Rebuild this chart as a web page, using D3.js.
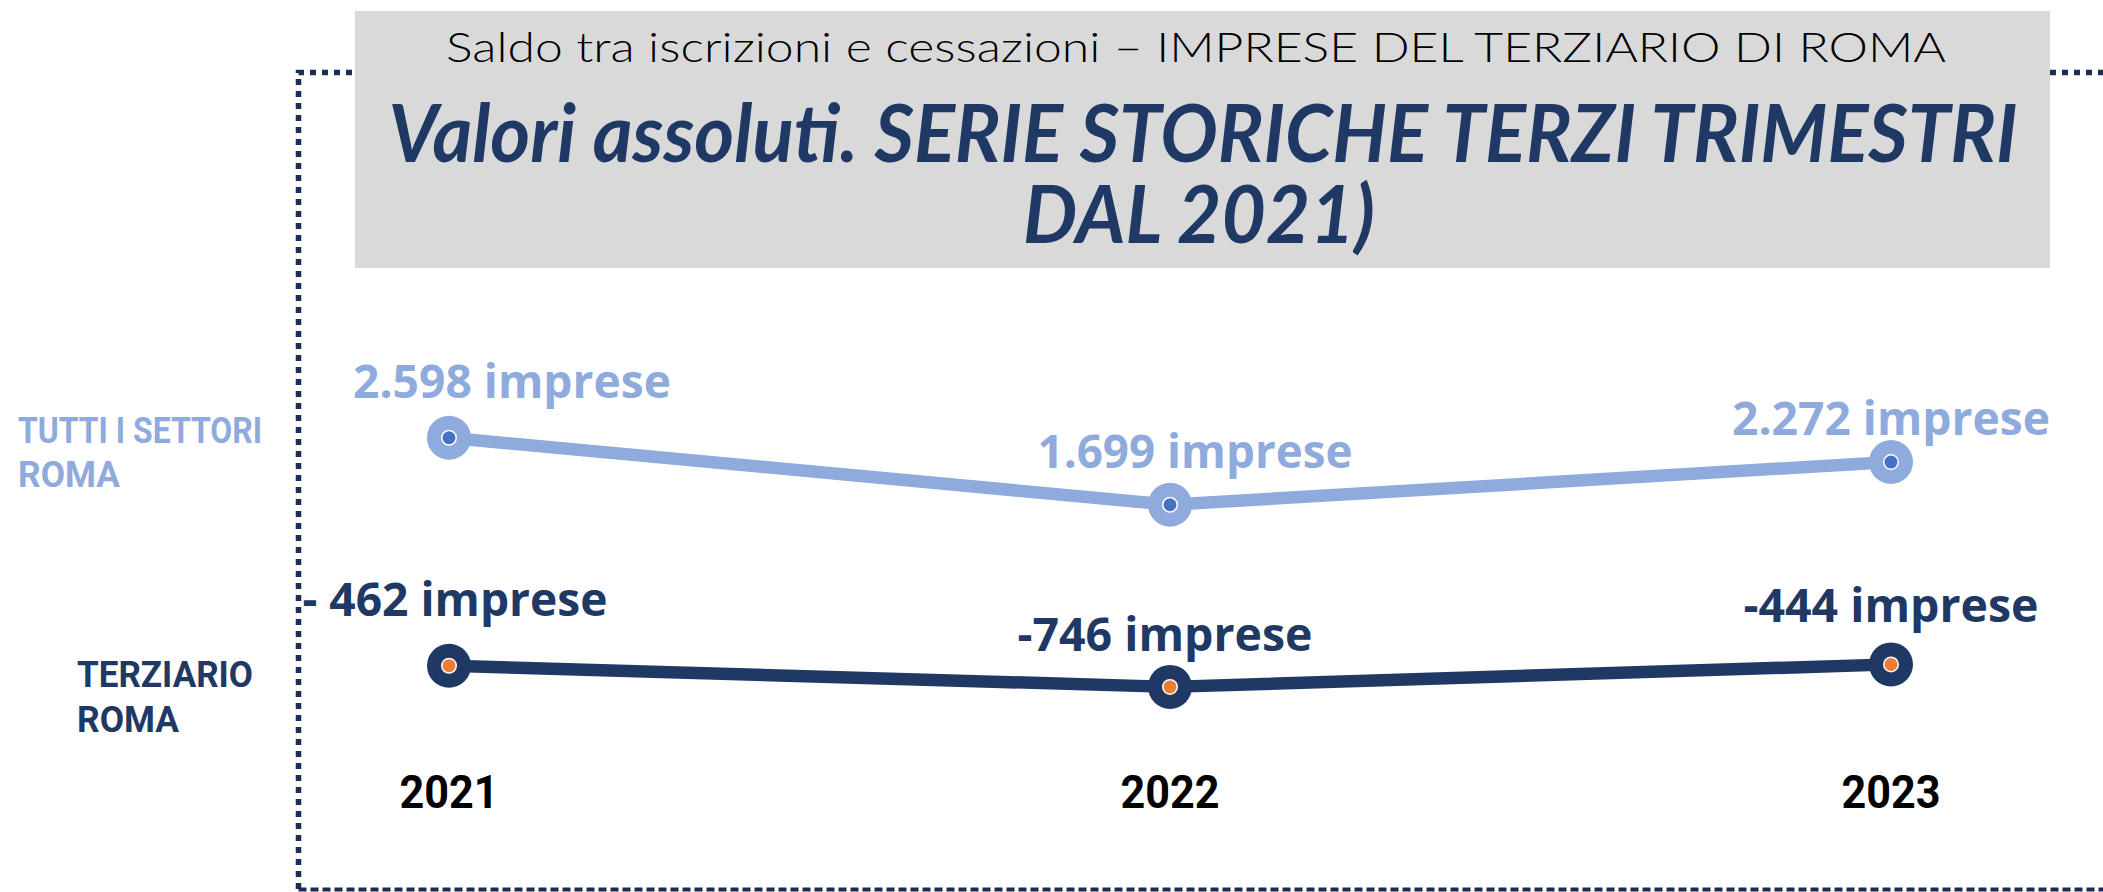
<!DOCTYPE html>
<html>
<head>
<meta charset="utf-8">
<script src="https://cdn.jsdelivr.net/npm/d3@7/dist/d3.min.js"></script>
<style>
  html, body { margin: 0; padding: 0; background: #ffffff; }
  svg { display: block; }
</style>
</head>
<body>
<script>
// ---------- DATA ----------
const years = ["2021", "2022", "2023"];
const tuttiValues = [2598, 1699, 2272];
const terziarioValues = [-462, -746, -444];
const tuttiLabels = ["2.598 imprese", "1.699 imprese", "2.272 imprese"];
const terziarioLabels = ["- 462 imprese", "-746 imprese", "-444 imprese"];
const seriesNames = [["TUTTI I SETTORI", "ROMA"], ["TERZIARIO", "ROMA"]];
const subtitleText = "Saldo tra iscrizioni e cessazioni \u2013 IMPRESE DEL TERZIARIO DI ROMA";
const titleLines = ["Valori assoluti. SERIE STORICHE TERZI TRIMESTRI", "DAL 2021)"];

// ---------- LAYOUT / STYLE ----------
const W = 2103, H = 892;
const lightColor = "#8FAADC", darkColor = "#203864";
const blueDot = "#4472C4", orangeDot = "#ED7D31";
const borderColor = "#1B2D55";

const svg = d3.select("body").append("svg").attr("width", W).attr("height", H);

const x = d3.scalePoint().domain(years).range([449, 1891]);
const y = d3.scaleLinear().domain([-1000, 3000]).range([705.8, 407.8]);

// dotted frame
svg.append("path")
  .attr("d", "M298.5,889 V72.5 H" + W)
  .attr("fill", "none").attr("stroke", borderColor)
  .attr("stroke-width", 5.5).attr("stroke-dasharray", "6,6");
svg.append("path")
  .attr("d", "M298.5,889.5 H" + W)
  .attr("fill", "none").attr("stroke", borderColor)
  .attr("stroke-width", 4).attr("stroke-dasharray", "8,4");

// title box
svg.append("rect").attr("x", 355).attr("y", 11).attr("width", 1695).attr("height", 257)
  .attr("fill", "#D9D9D9");

svg.append("text")
  .attr("x", 1196).attr("y", 62)
  .attr("text-anchor", "middle")
  .attr("font-family", "Lato").attr("font-size", 42).attr("font-weight", 300)
  .attr("fill", "#000000")
  .attr("textLength", 1500).attr("lengthAdjust", "spacingAndGlyphs")
  .text(subtitleText);

const titleLayout = [{ cx: 1203, y: 162, len: 1629 }, { cx: 1199, y: 243, len: 352 }];
titleLines.forEach((t, i) => {
  const l = titleLayout[i];
  svg.append("text")
    .attr("x", l.cx).attr("y", l.y)
    .attr("text-anchor", "middle")
    .attr("font-family", "Lato").attr("font-size", 80)
    .attr("font-weight", 700).attr("font-style", "italic")
    .attr("fill", "#1F3864")
    .attr("textLength", l.len).attr("lengthAdjust", "spacingAndGlyphs")
    .text(t);
});

// series definitions
const series = [
  { values: tuttiValues, labels: tuttiLabels, color: lightColor, dot: blueDot, name: seriesNames[0],
    labelOffsets: [{ dx: 63, dy: -40, w: 318 }, { dx: 25, dy: -37, w: 315 }, { dx: 0, dy: -27, w: 318 }],
    nameLayout: { x: 18, dy: 5, w: [244, 102], lh: 44 } },
  { values: terziarioValues, labels: terziarioLabels, color: darkColor, dot: orangeDot, name: seriesNames[1],
    labelOffsets: [{ dx: 6, dy: -50, w: 305 }, { dx: -5, dy: -36, w: 295 }, { dx: 0, dy: -42, w: 295 }],
    nameLayout: { x: 77, dy: 21, w: [176, 102], lh: 45 } }
];

const line = d3.line().x(d => x(d.year)).y(d => y(d.value));

series.forEach(s => {
  const pts = years.map((yr, i) => ({ year: yr, value: s.values[i], label: s.labels[i], off: s.labelOffsets[i] }));
  const g = svg.append("g");

  g.append("path").datum(pts)
    .attr("d", line)
    .attr("fill", "none").attr("stroke", s.color)
    .attr("stroke-width", 12.5).attr("stroke-linejoin", "round");

  const m = g.selectAll("g.marker").data(pts).join("g")
    .attr("class", "marker")
    .attr("transform", d => `translate(${x(d.year)},${y(d.value)})`);
  m.append("circle").attr("r", 22).attr("fill", s.color);
  m.append("circle").attr("r", 8).attr("fill", "#ffffff");
  m.append("circle").attr("r", 6.5).attr("fill", s.dot);

  g.selectAll("text.val").data(pts).join("text")
    .attr("class", "val")
    .attr("x", d => x(d.year) + d.off.dx)
    .attr("y", d => y(d.value) + d.off.dy)
    .attr("text-anchor", "middle")
    .attr("font-family", "'Open Sans', sans-serif").attr("font-weight", 700)
    .attr("font-size", 46).attr("fill", s.color)
    .attr("textLength", d => d.off.w).attr("lengthAdjust", "spacingAndGlyphs")
    .text(d => d.label);

  // series name at left, two lines
  const nl = s.nameLayout;
  const baseY = y(s.values[0]) + nl.dy;
  s.name.forEach((t, i) => {
    g.append("text")
      .attr("x", nl.x).attr("y", baseY + i * nl.lh)
      .attr("font-family", "Roboto, sans-serif").attr("font-weight", 700)
      .attr("font-size", 37).attr("fill", s.color)
      .attr("textLength", nl.w[i]).attr("lengthAdjust", "spacingAndGlyphs")
      .text(t);
  });
});

// year axis labels
svg.selectAll("text.year").data(years).join("text")
  .attr("class", "year")
  .attr("x", d => x(d)).attr("y", 808)
  .attr("text-anchor", "middle")
  .attr("font-family", "Roboto, sans-serif").attr("font-weight", 700)
  .attr("font-size", 47).attr("fill", "#000000")
  .attr("textLength", 99).attr("lengthAdjust", "spacingAndGlyphs")
  .text(d => d);
</script>
</body>
</html>
